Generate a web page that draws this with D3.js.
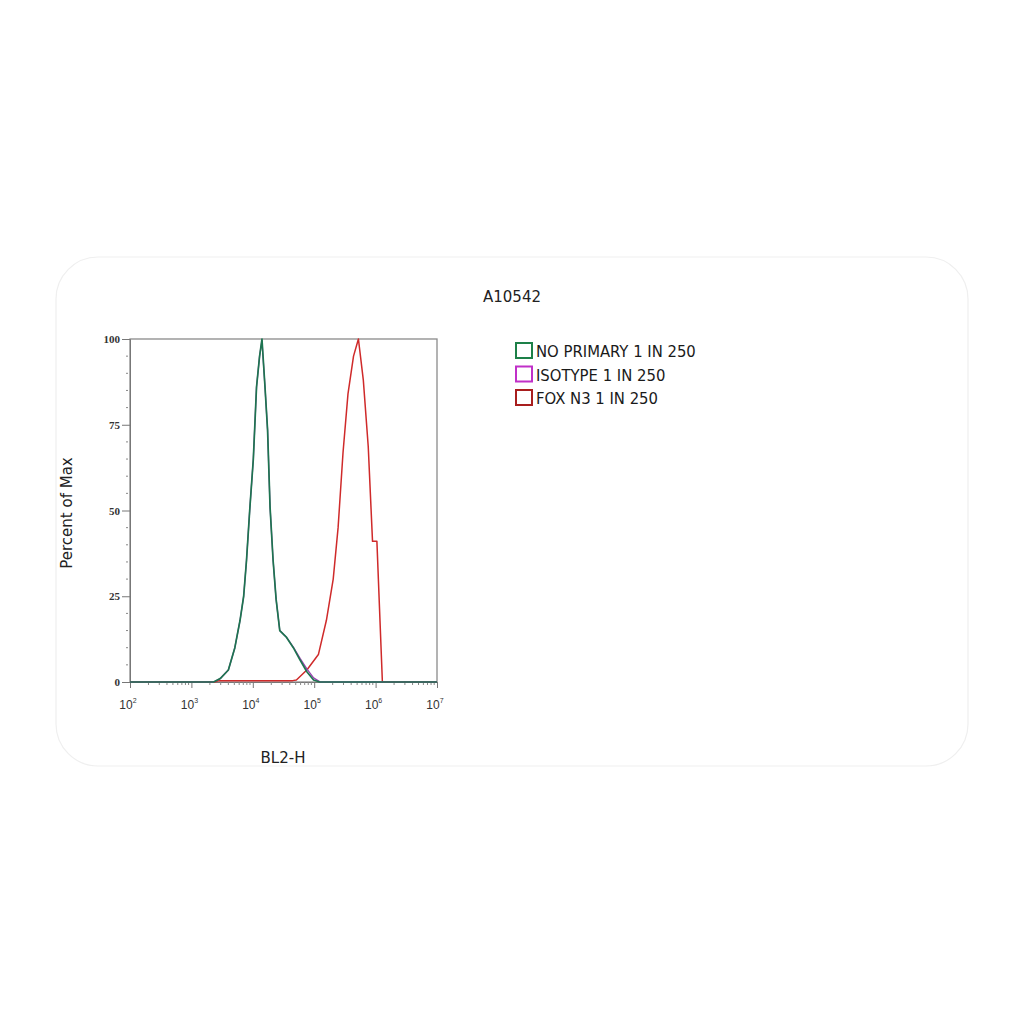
<!DOCTYPE html>
<html><head><meta charset="utf-8">
<script src="https://cdn.jsdelivr.net/npm/d3@7"></script>
<style>body{margin:0;background:#fff}svg{display:block}</style>
</head><body><svg id="c" width="1024" height="1024"></svg>
<script>
const title = "A10542";
const xLabel = "BL2-H";
const yLabel = "Percent of Max";
const seriesNames = ["NO PRIMARY 1 IN 250", "ISOTYPE 1 IN 250", "FOX N3 1 IN 250"];
const seriesColors = ["#1d8048", "#c030c8", "#a81e1e"];
const lineColors = ["#1d7550", "#9a3fb0", "#cf2a2a"];
const xTickValues = [1e2, 1e3, 1e4, 1e5, 1e6, 1e7];
const xTickExps = ["2", "3", "4", "5", "6", "7"];
const yTickValues = [0, 25, 50, 75, 100];

const noPrimaryX = [1e2, 2.3e3, 2.95e3, 4.0e3, 5.1e3, 6.2e3, 7.1e3, 7.9e3, 8.9e3, 1.02e4, 1.15e4, 1.29e4, 1.41e4, 1.58e4, 1.74e4, 1.91e4, 2.14e4, 2.4e4, 2.75e4, 3.55e4, 4.57e4, 5.89e4, 7.59e4, 9.77e4, 1.23e5, 1e7];
const noPrimaryY = [0, 0, 1, 3.5, 10, 18, 25, 35.5, 50, 65, 86, 95, 100, 86, 73.5, 51, 35.5, 24, 15, 13, 10, 6.4, 3, 0.6, 0, 0];
const isotypeX = [1e2, 2.3e3, 2.95e3, 4.0e3, 5.1e3, 6.2e3, 7.1e3, 7.9e3, 8.9e3, 1.02e4, 1.15e4, 1.29e4, 1.41e4, 1.58e4, 1.74e4, 1.91e4, 2.14e4, 2.4e4, 2.75e4, 3.55e4, 4.57e4, 5.89e4, 7.59e4, 9.77e4, 1.26e5, 1e7];
const isotypeY = [0, 0, 1, 3.5, 10, 18, 25, 35.5, 50, 65, 86, 95, 99.5, 86, 73.5, 51, 35.5, 24, 15, 13, 10.2, 6.9, 3.8, 1.2, 0, 0];
const foxN3X = [1e2, 2.4e3, 2.8e3, 4.47e4, 5.13e4, 7.59e4, 1.17e5, 1.58e5, 2.04e5, 2.45e5, 2.95e5, 3.55e5, 4.37e5, 5.25e5, 6.31e5, 7.59e5, 8.91e5, 1.05e6, 1.29e6, 1e7];
const foxN3Y = [0, 0, 0.4, 0.4, 0.6, 3.5, 8, 18, 30, 45, 67, 84, 95, 100, 88, 68.6, 41, 41, 0, 0];

const svg = d3.select("#c");
svg.append("rect").attr("x", 56).attr("y", 257).attr("width", 912).attr("height", 509)
  .attr("rx", 42).attr("fill", "none").attr("stroke", "#efefef").attr("stroke-width", 1.2);

const L = 130, R = 437, T = 339, B = 682;
const x = d3.scaleLog().domain([1e2, 1e7]).range([L, R]);
const y = d3.scaleLinear().domain([0, 100]).range([B, T]);
const font = "DejaVu Sans";
const condFont = "DejaVu Sans Condensed, DejaVu Sans";

svg.append("text").attr("x", 512).attr("y", 302).attr("text-anchor", "middle")
  .attr("font-family", font).attr("font-size", 15).attr("fill", "#222").text(title);

svg.append("rect").attr("x", L).attr("y", T).attr("width", R - L).attr("height", B - T)
  .attr("fill", "none").attr("stroke", "#8a8a8a").attr("stroke-width", 1.3);

const yAxis = d3.axisLeft(y).tickValues(yTickValues).tickSize(8).tickFormat(d3.format("d"));
const gy = svg.append("g").attr("transform", `translate(${L},0)`).call(yAxis);
gy.select(".domain").attr("stroke", "#777");
gy.selectAll(".tick line").attr("stroke", "#777");
gy.selectAll("text").attr("font-family", "Liberation Serif").attr("font-size", 11).attr("font-weight", "bold").attr("fill", "#333").attr("dx", "1");
const yMinor = d3.range(0, 101, 5).filter(v => v % 25 !== 0);
svg.append("g").selectAll("line").data(yMinor).join("line")
  .attr("x1", L - 4).attr("x2", L - 2).attr("y1", d => y(d)).attr("y2", d => y(d))
  .attr("stroke", "#888");

const xAxis = d3.axisBottom(x).tickValues(xTickValues).tickSize(6).tickFormat("");
const gx = svg.append("g").attr("transform", `translate(0,${B})`).call(xAxis);
gx.select(".domain").attr("stroke", "#777");
gx.selectAll(".tick line").attr("stroke", "#777");
const xMinor = [];
xTickValues.slice(0, -1).forEach(d => { for (let k = 2; k <= 9; k++) xMinor.push(d * k); });
svg.append("g").selectAll("line").data(xMinor).join("line")
  .attr("x1", d => x(d)).attr("x2", d => x(d)).attr("y1", B).attr("y2", B + 3)
  .attr("stroke", "#888");
const xl = svg.append("g").selectAll("text").data(xTickValues).join("text")
  .attr("x", d => x(d) - 2).attr("y", B + 27).attr("text-anchor", "middle")
  .attr("font-family", "Liberation Sans").attr("font-size", 12).attr("fill", "#333");
xl.append("tspan").text("10");
xl.append("tspan").attr("dy", -6).attr("font-size", 7).text((d, i) => xTickExps[i]);

svg.append("text").attr("transform", "translate(72,513) rotate(-90)").attr("text-anchor", "middle")
  .attr("font-family", font).attr("font-size", 15).attr("fill", "#222").text(yLabel);
svg.append("text").attr("x", 283).attr("y", 763).attr("text-anchor", "middle")
  .attr("font-family", font).attr("font-size", 15).attr("fill", "#222").text(xLabel);

const line = d3.line().x(d => x(d[0])).y(d => y(d[1]));
const series = [
  { pts: d3.zip(foxN3X, foxN3Y), c: lineColors[2], w: 1.5 },
  { pts: d3.zip(isotypeX, isotypeY), c: lineColors[1], w: 1.3 },
  { pts: d3.zip(noPrimaryX, noPrimaryY), c: lineColors[0], w: 1.7 }
];
series.forEach(s => {
  svg.append("path").datum(s.pts).attr("d", line).attr("fill", "none")
    .attr("stroke", s.c).attr("stroke-width", s.w).attr("stroke-linejoin", "round");
});

const lg = svg.append("g");
seriesNames.forEach((n, i) => {
  const yy = 343 + i * 23.5;
  lg.append("rect").attr("x", 516).attr("y", yy).attr("width", 16).attr("height", 15)
    .attr("fill", "none").attr("stroke", seriesColors[i]).attr("stroke-width", 2);
  lg.append("text").attr("x", 536).attr("y", yy + 14).attr("font-family", condFont)
    .attr("font-size", 16.5).attr("fill", "#1a1a1a").text(n);
});
</script></body></html>
